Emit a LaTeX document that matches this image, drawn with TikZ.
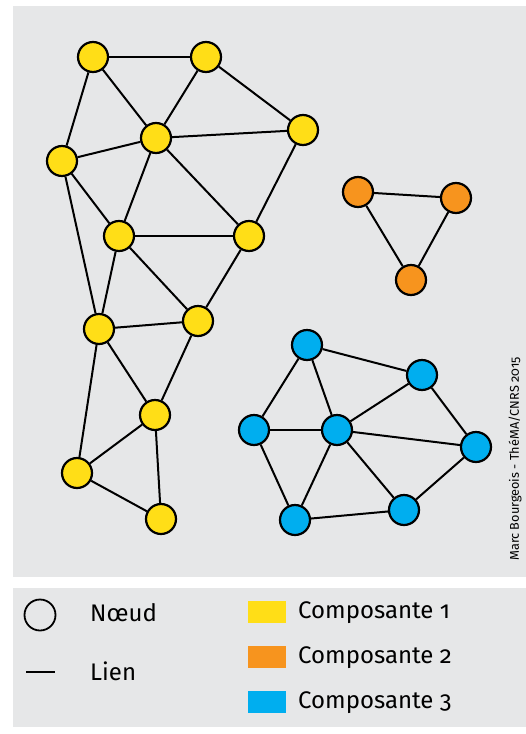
\documentclass[tikz,border=0pt]{standalone}
\usepackage{fontspec}
\setmainfont[Numbers=OldStyle]{Fira Sans}
\usepackage{tikz}
\usetikzlibrary{positioning}
\definecolor{fondgris}{RGB}{230,231,232}
\definecolor{compjaune}{RGB}{255,222,23}
\definecolor{comporange}{RGB}{247,148,30}
\definecolor{compbleu}{RGB}{0,174,239}

\begin{document}
\begin{tikzpicture}[
  x=1pt, y=-1pt,
  noeud/.style={circle, draw=black, line width=2.2pt, minimum size=30pt, inner sep=0pt},
  jaune/.style={noeud, fill=compjaune},
  orange/.style={noeud, fill=comporange},
  bleu/.style={noeud, fill=compbleu},
  lien/.style={line width=2pt},
  legende/.style={font=\fontsize{24}{28}\selectfont, anchor=west, inner sep=0pt},
  pastille/.style={minimum width=38pt, minimum height=22pt, inner sep=0pt}
]

\useasboundingbox (0,0) rectangle (526,734);

% --- Fonds ---
\fill[fondgris] (13,6) rectangle (526,577);
\fill[fondgris] (13,588) rectangle (526,727);

% --- Composante 1 ---
\node[jaune] (y1) at (93,57) {};
\node[jaune] (y2) at (206,57) {};
\node[jaune] (y3) at (156,138) {};
\node[jaune] (y4) at (303,130) {};
\node[jaune] (y5) at (62,161) {};
\node[jaune] (y6) at (119,236) {};
\node[jaune] (y7) at (249,236) {};
\node[jaune] (y8) at (99,329) {};
\node[jaune] (y9) at (198,321) {};
\node[jaune] (y10) at (155,415) {};
\node[jaune] (y11) at (77,473) {};
\node[jaune] (y12) at (161,519) {};

% --- Composante 2 ---
\node[orange] (o1) at (358,192) {};
\node[orange] (o2) at (456,198) {};
\node[orange] (o3) at (411,280) {};

% --- Composante 3 ---
\node[bleu] (b1) at (307,345) {};
\node[bleu] (b2) at (422,375) {};
\node[bleu] (b3) at (254,430) {};
\node[bleu] (b4) at (337,430) {};
\node[bleu] (b5) at (476,447) {};
\node[bleu] (b6) at (295,520) {};
\node[bleu] (b7) at (404,510) {};

% --- Liens ---
\foreach \a/\b in {y1/y2,y1/y3,y1/y5,y2/y3,y2/y4,y3/y4,y3/y5,y3/y6,y3/y7,
                   y4/y7,y5/y6,y5/y8,y6/y7,y6/y8,y6/y9,y7/y9,y8/y9,y8/y10,
                   y8/y11,y9/y10,y10/y11,y10/y12,y11/y12}
  \draw[lien] (\a) -- (\b);

\foreach \a/\b in {o1/o2,o1/o3,o2/o3}
  \draw[lien] (\a) -- (\b);

\foreach \a/\b in {b1/b2,b1/b3,b1/b4,b2/b4,b2/b5,b3/b4,b3/b6,b4/b5,b4/b6,
                   b4/b7,b5/b7,b6/b7}
  \draw[lien] (\a) -- (\b);

% --- Source ---
\node[rotate=90, font=\fontsize{12.7}{15}\selectfont, inner sep=0pt] (source) at (515,459)
  {Marc Bourgeois - ThéMA/CNRS 2015};

% --- Légende ---
\node[noeud, fill=none, minimum size=31pt, line width=1.8pt] (lnoeud) at (40,615) {};
\node[legende] (tnoeud) at (90,613) {Nœud};
\coordinate (lg) at (26,672);
\coordinate (ld) at (55,672);
\draw[lien] (lg) -- (ld);
\node[legende] (tlien) at (90,671) {Lien};

\node[pastille, fill=compjaune] (p1) at (267,612) {};
\node[legende] (t1) at (298,613) {Composante 1};
\node[pastille, fill=comporange] (p2) at (267,657) {};
\node[legende] (t2) at (298,658) {Composante 2};
\node[pastille, fill=compbleu] (p3) at (267,702) {};
\node[legende] (t3) at (298,703) {Composante 3};

\end{tikzpicture}
\end{document}
